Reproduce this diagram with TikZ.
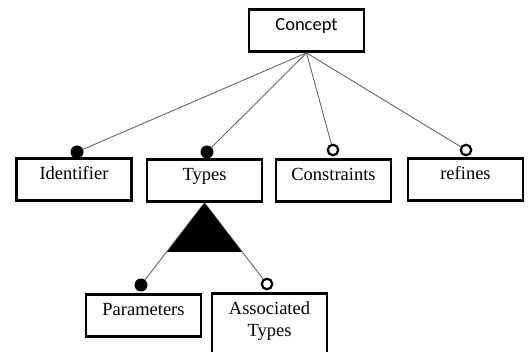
\documentclass[tikz,border=0pt]{standalone}
\usepackage{fontspec}
\setmainfont{Liberation Serif}
\newfontfamily\calibrifont{Carlito}
\tikzset{
  box/.style={draw, line width=2.8pt, minimum width=115pt, inner sep=0pt,
    text height=21pt, text depth=21pt, align=center,
    font=\fontsize{18.5}{22}\selectfont},
  link/.style={draw=black!60, line width=0.9pt},
  mandatory/.style={circle, fill=black, inner sep=0pt, minimum size=13pt},
  optional/.style={circle, draw, fill=white, line width=2.2pt, inner sep=0pt, minimum size=10.5pt}
}
\begin{document}
\begin{tikzpicture}[x=1pt,y=-1pt]
        \useasboundingbox (0,0) rectangle (530,352);

        % Radice
        \node[box, font=\calibrifont\fontsize{18.5}{22}\selectfont] (concept) at (306.5,30.5) {Concept};

        % Primo livello
        \node[box] (identifier) at (74,179.5) {Identifier};
        \node[box] (types) at (204.5,180.5) {Types};
        \node[box] (constraints) at (333.5,180.5) {Constraints};
        \node[box] (refines) at (465.5,179.5) {refines};

        % Secondo livello
        \node[box] (parameters) at (143.5,315.5) {Parameters};
        \node[box, text height=43pt, anchor=north] (assoc) at (269.5,292) {Associated\\Types};

        % Collegamenti
        \node[mandatory] (d1) at (77,152) {};
        \node[mandatory] (d2) at (207,152) {};
        \node[optional] (d3) at (333,150) {};
        \node[optional] (d4) at (466,150) {};
        \node[mandatory] (d5) at (141,285) {};
        \node[optional] (d6) at (267,284) {};
        \draw[link] (concept.south) -- (d1);
        \draw[link] (concept.south) -- (d2);
        \draw[link] (concept.south) -- (d3);
        \draw[link] (concept.south) -- (d4);
        \draw[link] (types.south) -- (d5);
        \draw[link] (types.south) -- (d6);

        % Gruppo
        \fill (types.south) -- (167,252) -- (242,252) -- cycle;
    \end{tikzpicture}
\end{document}
